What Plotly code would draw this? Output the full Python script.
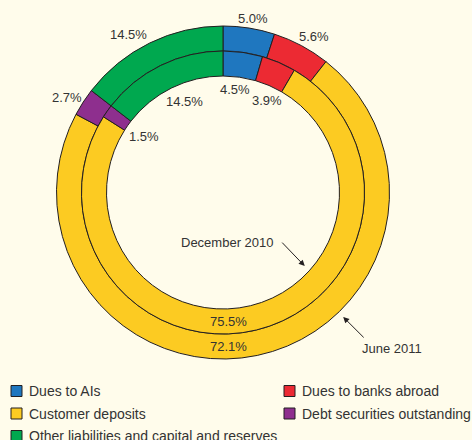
import math
import plotly.graph_objects as go

# ---- data ----
categories = ["Dues to AIs", "Dues to banks abroad", "Customer deposits",
              "Debt securities outstanding", "Other liabilities and capital and reserves"]
jun_2011 = [5.0, 5.6, 72.1, 2.7, 14.5]   # outer ring
dec_2010 = [4.5, 3.9, 75.5, 1.5, 14.5]   # inner ring
series_names = ["June 2011", "December 2010"]

# ---- style / geometry ----
colors = ["#1F77BF", "#EC2A33", "#FCCB22", "#8E2F8E", "#00A84F"]
LINE = "#231F20"
TEXT = "#333333"
BG = "#FFFCEB"
FONT = "Arial, Liberation Sans, Helvetica, sans-serif"
W, H = 472, 440
CX, CY = 223, 192.5
R_OUT, R_MID, R_IN = 166.5, 141.5, 116.5


def dom(r):
    return dict(x=[(CX - r) / W, (CX + r) / W], y=[(H - CY - r) / H, (H - CY + r) / H])


def polar(theta_deg, r):
    t = math.radians(theta_deg)
    px = CX + r * math.sin(t)
    py = CY - r * math.cos(t)
    return px / W, 1 - py / H


def mid_angles(vals):
    tot = sum(vals)
    out, cum = [], 0.0
    for v in vals:
        out.append((cum + v / 2) / tot * 360)
        cum += v
    return out


fig = go.Figure()
fig.add_trace(go.Pie(
    name=series_names[0], labels=categories, values=jun_2011, sort=False,
    direction="clockwise", rotation=0, hole=R_MID / R_OUT, domain=dom(R_OUT),
    marker=dict(colors=colors, line=dict(color=LINE, width=1)),
    textinfo="none", showlegend=False))
fig.add_trace(go.Pie(
    name=series_names[1], labels=categories, values=dec_2010, sort=False,
    direction="clockwise", rotation=0, hole=R_IN / R_MID, domain=dom(R_MID),
    marker=dict(colors=colors, line=dict(color=LINE, width=1)),
    textinfo="none", showlegend=False))

lab_font = dict(size=13, color=TEXT, family=FONT)
annotations = []
shapes = []
# label nudges in pixels (dx right, dy down), per slice index; None = no label
outer_nudge = [(2, 4), (6, 3), None, (-5, 2.5), (-15, 4)]
inner_nudge = [(-2, -3), (4, 1), None, (3.5, 2), (5.5, 0)]
for vals, nudges, r in ((jun_2011, outer_nudge, 180), (dec_2010, inner_nudge, 101)):
    for v, a, nd in zip(vals, mid_angles(vals), nudges):
        if nd is None:
            continue
        x, y = polar(a, r)
        annotations.append(dict(x=x, y=y, xref="paper", yref="paper", text=f"{v:.1f}%",
                                xanchor="center", yanchor="middle",
                                showarrow=False, xshift=nd[0], yshift=-nd[1], font=lab_font))
# customer deposits labels at the bottom of each ring
for v, r in ((dec_2010[2], (R_IN + R_MID) / 2), (jun_2011[2], (R_MID + R_OUT) / 2)):
    x, y = polar(180, r)
    annotations.append(dict(x=x, y=y, xref="paper", yref="paper", text=f"{v:.1f}%",
                            xanchor="center", yanchor="middle",
                            showarrow=False, xshift=5, yshift=0, font=lab_font))

# series name callouts with arrows
x, y = polar(132, 110)
annotations.append(dict(x=x, y=y, xref="paper", yref="paper", text="", showarrow=True,
                        ax=-24, ay=-25, arrowhead=2, arrowsize=1.2, arrowwidth=1,
                        arrowcolor=LINE))
annotations.append(dict(x=227.5 / W, y=1 - 242 / H, xref="paper", yref="paper",
                        xanchor="center", yanchor="middle",
                        text=series_names[1], showarrow=False, font=lab_font))
x, y = polar(136, 173)
annotations.append(dict(x=x, y=y, xref="paper", yref="paper", text="", showarrow=True,
                        ax=22, ay=22, arrowhead=2, arrowsize=1.2, arrowwidth=1,
                        arrowcolor=LINE))
annotations.append(dict(x=392 / W, y=1 - 348 / H, xref="paper", yref="paper",
                        xanchor="center", yanchor="middle",
                        text=series_names[0], showarrow=False, font=lab_font))

# legend: two columns, built from categories/colors
LEG_X0, LEG_DX = 11, 273
LEG_Y0, LEG_DY = 391, 22.5
SYM = 11
for i, (cat, col) in enumerate(zip(categories, colors)):
    cx = LEG_X0 + (i % 2) * LEG_DX
    cy = LEG_Y0 + (i // 2) * LEG_DY
    shapes.append(dict(type="rect", xref="paper", yref="paper",
                       x0=cx / W, x1=(cx + SYM) / W,
                       y0=1 - (cy - SYM / 2) / H, y1=1 - (cy + SYM / 2) / H,
                       fillcolor=col, line=dict(color=LINE, width=1)))
    annotations.append(dict(x=(cx + 16) / W, y=1 - cy / H, xref="paper", yref="paper",
                            xanchor="left", yanchor="middle", text=cat, showarrow=False,
                            font=dict(size=14, color=TEXT, family=FONT)))

fig.update_layout(
    width=W, height=H,
    margin=dict(l=0, r=0, t=0, b=0, autoexpand=False),
    paper_bgcolor=BG, plot_bgcolor=BG,
    annotations=annotations, shapes=shapes,
    showlegend=False,
    font=dict(family=FONT, color=TEXT),
)

fig.write_html("out.html", config={"displayModeBar": False},
               post_script="document.body.style.margin='0';document.body.style.background='%s';" % BG)
